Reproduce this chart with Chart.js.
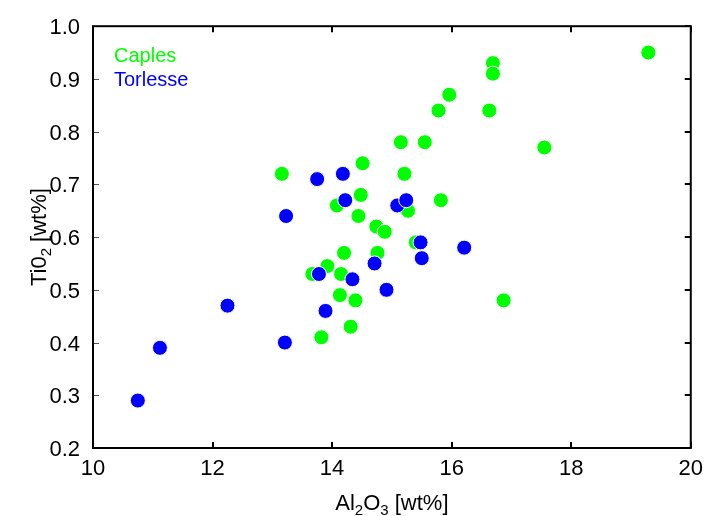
<!DOCTYPE html>
<html>
<head>
<meta charset="utf-8">
<script src="https://cdn.jsdelivr.net/npm/chart.js@4.4.1/dist/chart.umd.min.js"></script>
<style>
  html, body { margin: 0; padding: 0; background: #ffffff; }
  #wrap { width: 711px; height: 516px; }
</style>
</head>
<body>
<div id="wrap"><canvas id="c" width="711" height="516"></canvas></div>
<script>
// Al2O3 (x) and TiO2 (y) analyses, in wt%
const caplesAl2O3 = [19.29, 16.69, 16.69, 15.96, 15.78, 16.63, 15.15, 15.55, 17.55, 13.16,
                     14.51, 15.21, 15.82, 14.48, 14.08, 14.44, 14.74, 14.88, 15.27, 15.40,
                     14.20, 14.76, 13.67, 13.92, 14.15, 14.13, 14.39, 14.31, 13.82, 16.87];
const caplesTiO2   = [0.95, 0.93, 0.91, 0.87, 0.84, 0.84, 0.78, 0.78, 0.77, 0.72,
                      0.74, 0.72, 0.67, 0.68, 0.66, 0.64, 0.62, 0.61, 0.65, 0.59,
                      0.57, 0.57, 0.53, 0.545, 0.53, 0.49, 0.48, 0.43, 0.41, 0.48];

const torlesseAl2O3 = [10.75, 11.12, 12.25, 13.21, 13.89, 13.78, 13.23, 13.75, 14.18,
                       14.22, 15.09, 15.24, 15.48, 15.50, 16.21, 14.71, 14.91, 14.34];
const torlesseTiO2  = [0.29, 0.39, 0.47, 0.40, 0.46, 0.53, 0.64, 0.71, 0.72,
                       0.67, 0.66, 0.67, 0.59, 0.56, 0.58, 0.55, 0.50, 0.52];

const xTicks = [10, 12, 14, 16, 18, 20];
const yTicks = [0.2, 0.3, 0.4, 0.5, 0.6, 0.7, 0.8, 0.9, 1.0];

const seriesNames = ['Caples', 'Torlesse'];
const seriesColors = ['#00ff00', '#0000ff'];

const FONT = 'Arial, "Liberation Sans", Helvetica, sans-serif';

function pairs(xs, ys) {
  return xs.map((x, i) => ({ x: x, y: ys[i] }));
}

// frame, inward tick marks, legend text and axis titles with subscripts
const decorations = {
  id: 'decorations',
  afterDraw(chart) {
    const ctx = chart.ctx;
    const a = chart.chartArea;
    const xs = chart.scales.x;
    const ys = chart.scales.y;
    ctx.save();

    // tick marks pointing into the plot
    const tl = 6;
    ctx.strokeStyle = '#000';
    ctx.lineWidth = 2;
    ctx.beginPath();
    xTicks.forEach(v => {
      const px = Math.round(xs.getPixelForValue(v));
      ctx.moveTo(px, a.bottom); ctx.lineTo(px, a.bottom - tl);
      ctx.moveTo(px, a.top); ctx.lineTo(px, a.top + tl);
    });
    yTicks.forEach(v => {
      const py = Math.round(ys.getPixelForValue(v));
      ctx.moveTo(a.right, py); ctx.lineTo(a.right - tl, py);
    });
    ctx.stroke();
    ctx.strokeStyle = '#555';
    ctx.lineWidth = 1;
    ctx.beginPath();
    yTicks.forEach(v => {
      const py = Math.round(ys.getPixelForValue(v)) + 0.5;
      ctx.moveTo(a.left, py); ctx.lineTo(a.left + tl, py);
    });
    ctx.stroke();

    // box
    ctx.strokeStyle = '#000';
    ctx.lineWidth = 2;
    ctx.strokeRect(a.left, a.top, a.right - a.left, a.bottom - a.top);

    // series names in their colours
    ctx.font = '20px ' + FONT;
    ctx.textAlign = 'left';
    ctx.textBaseline = 'alphabetic';
    seriesNames.forEach((name, i) => {
      ctx.fillStyle = seriesColors[i];
      ctx.fillText(name, a.left + 21, a.top + 36 + i * 23.5);
    });

    // titles made of normal and subscript runs
    const big = '22px ' + FONT, small = '15px ' + FONT;
    function runsWidth(runs) {
      let w = 0;
      runs.forEach(r => { ctx.font = r.sub ? small : big; w += ctx.measureText(r.t).width; });
      return w;
    }
    function drawRuns(runs, x, y) {
      let cx = x;
      runs.forEach(r => {
        ctx.font = r.sub ? small : big;
        ctx.fillText(r.t, cx, r.sub ? y + 5 : y);
        cx += ctx.measureText(r.t).width;
      });
    }
    ctx.fillStyle = '#000';
    ctx.textAlign = 'left';
    const xTitle = [{ t: 'Al' }, { t: '2', sub: true }, { t: 'O' }, { t: '3', sub: true }, { t: ' [wt%]' }];
    const xw = runsWidth(xTitle);
    drawRuns(xTitle, (a.left + a.right) / 2 - xw / 2, 510);

    const yTitle = [{ t: 'Ti0' }, { t: '2', sub: true }, { t: ' [wt%]' }];
    const yw = runsWidth(yTitle);
    ctx.translate(46, (a.top + a.bottom) / 2);
    ctx.rotate(-Math.PI / 2);
    drawRuns(yTitle, -yw / 2, 0);

    ctx.restore();
  }
};

new Chart(document.getElementById('c'), {
  type: 'scatter',
  data: {
    datasets: [
      {
        label: seriesNames[0],
        data: pairs(caplesAl2O3, caplesTiO2),
        backgroundColor: seriesColors[0],
        borderColor: '#ffffff',
        borderWidth: 1,
        pointRadius: 7.5,
        pointHoverRadius: 7.5,
        order: 1
      },
      {
        label: seriesNames[1],
        data: pairs(torlesseAl2O3, torlesseTiO2),
        backgroundColor: seriesColors[1],
        borderColor: '#ffffff',
        borderWidth: 1,
        pointRadius: 7.5,
        pointHoverRadius: 7.5,
        order: 0
      }
    ]
  },
  options: {
    responsive: false,
    animation: false,
    devicePixelRatio: 1,
    layout: { padding: { left: 0, top: 25, right: 13, bottom: 0 } },
    plugins: {
      legend: { display: false },
      tooltip: { enabled: false }
    },
    scales: {
      x: {
        type: 'linear',
        min: 10, max: 20,
        afterBuildTicks: s => { s.ticks = xTicks.map(v => ({ value: v })); },
        ticks: { color: '#000', font: { family: FONT, size: 22 }, padding: 8, maxRotation: 0 },
        grid: { display: false, drawTicks: false },
        border: { display: false },
        afterFit: s => { s.height = 68; }
      },
      y: {
        type: 'linear',
        min: 0.2, max: 1.0,
        afterBuildTicks: s => { s.ticks = yTicks.map(v => ({ value: v })); },
        ticks: { color: '#000', font: { family: FONT, size: 22 }, padding: 13, labelOffset: 2,
                 callback: v => Number(v).toFixed(1) },
        grid: { display: false, drawTicks: false },
        border: { display: false },
        afterFit: s => { s.width = 93; }
      }
    }
  },
  plugins: [decorations]
});
</script>
</body>
</html>
